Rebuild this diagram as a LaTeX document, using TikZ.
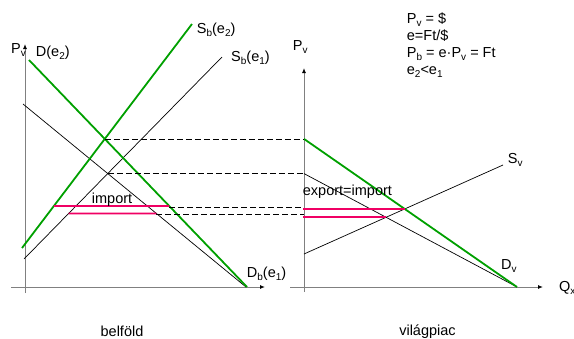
\documentclass[tikz,border=0pt]{standalone}
\usepackage{fontspec}
\setmainfont{Liberation Sans}
\usetikzlibrary{arrows.meta}
\newcommand\sbs[1]{\raisebox{-3pt}{\fontsize{10}{10}\selectfont #1}}
\definecolor{grn}{RGB}{0,160,0}
\definecolor{pnk}{RGB}{240,0,100}
\begin{document}
\begin{tikzpicture}[x=1pt,y=-1pt,
  lbl/.style={inner sep=0pt, anchor=base west, font=\fontsize{14.5}{17}\selectfont},
  ctr/.style={inner sep=0pt, anchor=base, font=\fontsize{14.5}{17}\selectfont},
  ax/.style={draw=gray, line width=0.9pt, -{Latex[length=5pt,width=4pt,black]}},
  blk/.style={black, line width=0.7pt},
  grline/.style={grn, line width=1.8pt},
  pk/.style={pnk, line width=1.8pt},
  dsh/.style={black, line width=0.7pt, dash pattern=on 6pt off 3pt}]
\useasboundingbox (0,0) rectangle (574,338);
% axes
\coordinate (lYb) at (25,293); \coordinate (lYt) at (25,44);
\coordinate (lXl) at (11,287); \coordinate (lXr) at (265,287);
\coordinate (rYb) at (304,292); \coordinate (rYt) at (304,68);
\coordinate (rXl) at (290,287); \coordinate (rXr) at (543,287);
\draw[ax] (lYb) -- (lYt);
\draw[ax] (lXl) -- (lXr);
\draw[ax] (rYb) -- (rYt);
\draw[ax] (rXl) -- (rXr);
% left curves
\coordinate (De2a) at (29,60);  \coordinate (De2b) at (247,287);
\coordinate (Db1a) at (23,104); \coordinate (Db1b) at (246,287);
\coordinate (Se2a) at (22,248); \coordinate (Se2b) at (192,24);
\coordinate (Se1a) at (24,259); \coordinate (Se1b) at (222,57);
\coordinate (E2) at (intersection of De2a--De2b and Se2a--Se2b);
\coordinate (E1) at (intersection of Db1a--Db1b and Se1a--Se1b);
\coordinate (R2) at (rYt |- E2);
\coordinate (R1) at (rYt |- E1);
% right curves
\coordinate (Dvb) at (517,287);
\coordinate (Sva) at (304,254); \coordinate (Svb) at (503,165);
\coordinate (W2) at (intersection of Sva--Svb and R2--Dvb);
\coordinate (W1) at (intersection of Sva--Svb and R1--Dvb);
% horizontal levels
\coordinate (hUa) at (0,206);   \coordinate (hUb) at (300,206);
\coordinate (hLa) at (0,213.5); \coordinate (hLb) at (300,213.5);
\coordinate (pu1) at (intersection of hUa--hUb and Se2a--Se2b);
\coordinate (pu2) at (intersection of hUa--hUb and De2a--De2b);
\coordinate (pl1) at (intersection of hLa--hLb and Se1a--Se1b);
\coordinate (pl2) at (intersection of hLa--hLb and Db1a--Db1b);
\coordinate (yu) at (0,207.5); \coordinate (yl) at (0,214.5);
% black lines
\draw[blk] (Db1a) -- (Db1b);
\draw[blk] (Se1a) -- (Se1b);
\draw[blk] (R1) -- (Dvb);
\draw[blk] (Sva) -- (Svb);
% green lines
\draw[grline] (De2a) -- (De2b);
\draw[grline] (Se2a) -- (Se2b);
\draw[grline] (R2) -- (Dvb);
% dashed
\draw[dsh] (E2) -- (R2);
\draw[dsh] (E1) -- (R1);
\draw[dsh] (pu2 |- yu) -- (rYt |- yu);
\draw[dsh] (pl2 |- yl) -- (rYt |- yl);
% pink
\draw[pk] (pu1) -- (pu2);
\draw[pk] (pl1) -- (pl2);
\draw[pk] ([xshift=-1pt]rYt |- W2) -- (W2);
\draw[pk] ([xshift=-1pt]rYt |- W1) -- (W1);
% labels
\node[lbl] (lPv) at (11,53.3) {P\sbs{v}};
\node[lbl] (lDe2) at (35.7,56.7) {D(e\sbs{2})};
\node[lbl] (lSe2) at (196.7,33.3) {S\sbs{b}(e\sbs{2})};
\node[lbl] (lSe1) at (231,61.7) {S\sbs{b}(e\sbs{1})};
\node[lbl] (lDb1) at (246.7,277.3) {D\sbs{b}(e\sbs{1})};
\node[lbl] (limp) at (91.7,203.3) {import};
\node[lbl] (rPv) at (292.7,50.7) {P\sbs{v}};
\node[lbl] (rexp) at (302.7,195.7) {export=import};
\node[lbl] (rSv) at (507.7,163.3) {S\sbs{v}};
\node[lbl] (rDv) at (501,269) {D\sbs{v}};
\node[lbl] (rQx) at (559,291.7) {Q\sbs{x}};
\node[ctr] (bel) at (122,336) {belföld};
\node[ctr] (vil) at (427.5,335) {világpiac};
\node[lbl] (t1) at (406.7,23) {P\sbs{v} = \$};
\node[lbl] (t2) at (406.7,40) {e=Ft/\$};
\node[lbl] (t3) at (406.7,57) {P\sbs{b} = e·P\sbs{v} = Ft};
\node[lbl] (t4) at (406.7,74) {e\sbs{2}<e\sbs{1}};
\end{tikzpicture}
\end{document}
